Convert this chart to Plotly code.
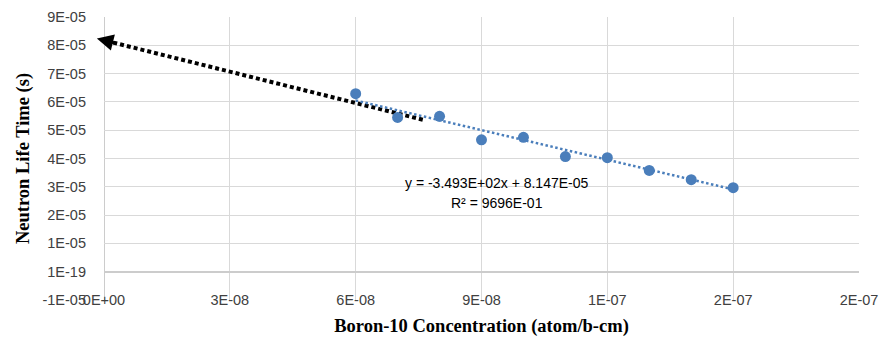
import plotly.graph_objects as go

# ---- data ----
boron_conc = [6e-8, 7e-8, 8e-8, 9e-8, 1.0e-7, 1.1e-7, 1.2e-7, 1.3e-7, 1.4e-7, 1.5e-7]
life_time = [6.29e-5, 5.45e-5, 5.49e-5, 4.66e-5, 4.75e-5, 4.07e-5, 4.03e-5, 3.58e-5, 3.25e-5, 2.97e-5]

trend_slope = -3.493e2
trend_intercept = 8.147e-5
trend_x = [6e-8, 1.5e-7]

arrow_x = [7.6e-8, -0.17e-8]
arrow_y = [5.37e-5, 8.24e-5]

x_tickvals = [0, 3e-8, 6e-8, 9e-8, 1.2e-7, 1.5e-7, 1.8e-7]
x_ticktext = ["0E+00", "3E-08", "6E-08", "9E-08", "1E-07", "2E-07", "2E-07"]
y_tickvals = [-1e-5, 0, 1e-5, 2e-5, 3e-5, 4e-5, 5e-5, 6e-5, 7e-5, 8e-5, 9e-5]
y_ticktext = ["-1E-05", "1E-19", "1E-05", "2E-05", "3E-05", "4E-05", "5E-05",
              "6E-05", "7E-05", "8E-05", "9E-05"]

eq_lines = ["y = -3.493E+02x + 8.147E-05", "R² = 9696E-01"]
eq_x = 9.37e-8
eq_y = [3.12e-5, 2.42e-5]

x_title = "Boron-10 Concentration (atom/b-cm)"
y_title = "Neutron Life Time (s)"

blue = "#4a7ebb"
grid = "#d9d9d9"
tick_font = dict(family="Liberation Sans, Arial, sans-serif", size=14.5, color="#404040")
title_font = dict(family="Liberation Serif, Times New Roman, serif", size=18.5, color="#000000")

trend_y = [trend_slope * x + trend_intercept for x in trend_x]

fig = go.Figure()

# black dotted extrapolation arrow body
fig.add_trace(go.Scatter(
    x=arrow_x, y=arrow_y, mode="lines",
    line=dict(color="black", width=4, dash="4px,3px"),
    hoverinfo="skip", showlegend=False, cliponaxis=False,
))

# trendline
fig.add_trace(go.Scatter(
    x=trend_x, y=trend_y, mode="lines",
    line=dict(color=blue, width=2.5, dash="2.5px,2.5px"),
    hoverinfo="skip", showlegend=False,
))

# data points
fig.add_trace(go.Scatter(
    x=boron_conc, y=life_time, mode="markers",
    marker=dict(color=blue, size=11),
    showlegend=False,
))

# arrow head at the tip of the extrapolation
dx = arrow_x[0] - arrow_x[1]
dy = arrow_y[0] - arrow_y[1]
fig.add_annotation(
    x=arrow_x[1], y=arrow_y[1],
    ax=arrow_x[1] + 0.06 * dx, ay=arrow_y[1] + 0.06 * dy,
    xref="x", yref="y", axref="x", ayref="y",
    text="", showarrow=True, arrowhead=2, arrowsize=1.1, arrowwidth=3,
    arrowcolor="black",
)

for line_text, yy in zip(eq_lines, eq_y):
    fig.add_annotation(
        x=eq_x, y=yy, xref="x", yref="y",
        text=line_text, showarrow=False, align="center",
        font=dict(family="Liberation Sans, Arial, sans-serif", size=14, color="#000000"),
    )

fig.update_layout(
    width=886, height=340,
    margin=dict(l=104, r=27, t=17, b=40),
    paper_bgcolor="white", plot_bgcolor="white",
    xaxis=dict(
        range=[0, 1.8e-7], tickvals=x_tickvals, ticktext=x_ticktext,
        showgrid=True, gridcolor=grid, gridwidth=1.3,
        zeroline=False, showline=False,
        tickfont=tick_font, ticklabelstandoff=-11,
        title=dict(text="<b>" + x_title + "</b>", font=title_font, standoff=12),
        automargin=False,
    ),
    yaxis=dict(
        range=[-1e-5, 9e-5], tickvals=y_tickvals, ticktext=y_ticktext,
        showgrid=True, gridcolor=grid, gridwidth=1.3,
        zeroline=True, zerolinecolor="#cccccc", zerolinewidth=2,
        showline=False,
        tickfont=tick_font, ticklabelstandoff=17,
        title=dict(text="<b>" + y_title + "</b>", font=title_font, standoff=7),
        automargin=False,
    ),
)

# vertical axis line at x=0 (the y-axis line)
fig.add_shape(type="line", xref="x", yref="paper", x0=0, x1=0, y0=0, y1=1,
              line=dict(color="#cccccc", width=2), layer="below")

fig.write_html("out.html", config={"displayModeBar": False},
               post_script="document.body.style.margin='0';")
